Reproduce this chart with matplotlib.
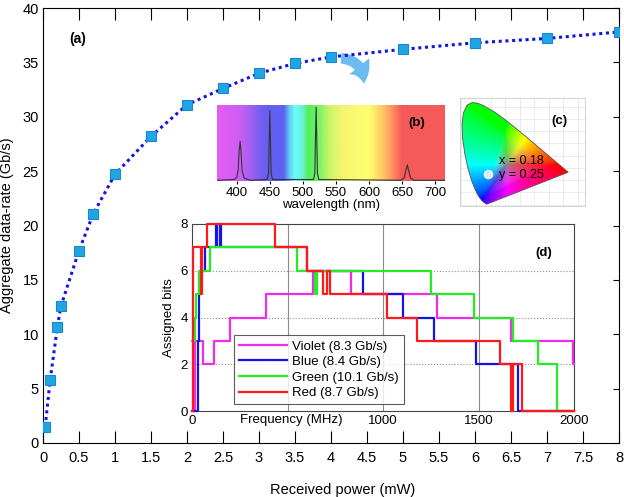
import numpy as np
import matplotlib
matplotlib.use('Agg')
import matplotlib.pyplot as plt
from matplotlib.colors import LinearSegmentedColormap
from matplotlib.patches import Polygon, FancyArrowPatch

plt.rcParams['font.family'] = ['Liberation Sans', 'DejaVu Sans']

# (a) aggregate data-rate vs received power
power = [0.03, 0.1, 0.2, 0.25, 0.5, 0.7, 1.0, 1.5, 2.0, 2.5, 3.0, 3.5, 4.0, 5.0, 6.0, 7.0, 8.0]
rate = [1.5, 5.8, 10.7, 12.6, 17.7, 21.1, 24.7, 28.2, 31.1, 32.6, 34.0, 34.9, 35.5, 36.2, 36.8, 37.2, 37.8]

# (b) emission spectrum
wl = [370, 396, 400, 402, 403.5, 405, 406.5, 408, 411, 420, 446, 448, 449, 450, 451, 452, 454,
      516, 518, 519, 520, 521, 522, 524, 648, 653, 656, 658, 660, 663, 668, 715]
intensity = [0.01, 0.02, 0.05, 0.15, 0.4, 0.54, 0.38, 0.14, 0.04, 0.01, 0.02, 0.1, 0.55, 0.95, 0.5, 0.1, 0.02,
             0.02, 0.1, 0.6, 1.0, 0.55, 0.1, 0.02, 0.01, 0.04, 0.15, 0.22, 0.14, 0.04, 0.01, 0.01]
spec_nodes = [370, 405, 440, 470, 480, 488, 500, 508, 520, 540, 560, 600, 620, 640, 650, 715]
spec_colors = ['#e65cf2', '#cc5ef2', '#6a5ef0', '#5b62f2', '#66ccf5', '#66ffff', '#66f2cc', '#55ee55',
               '#66f266', '#c8f566', '#f5f570', '#ffff70', '#ffcc66', '#ff8060', '#f55a5a', '#f55a5a']

# (c) CIE 1931 spectral locus
locus_x = [0.1741, 0.1714, 0.1644, 0.1566, 0.1440, 0.1241, 0.1096, 0.0913, 0.0687, 0.0454, 0.0235,
           0.0082, 0.0039, 0.0139, 0.0389, 0.0743, 0.1142, 0.1547, 0.2296, 0.3016, 0.3731, 0.4441,
           0.5125, 0.5752, 0.6270, 0.6915, 0.7190, 0.7347]
locus_y = [0.0050, 0.0051, 0.0109, 0.0177, 0.0297, 0.0578, 0.0868, 0.1327, 0.2007, 0.2950, 0.4127,
           0.5384, 0.6548, 0.7502, 0.8120, 0.8338, 0.8262, 0.8059, 0.7543, 0.6923, 0.6245, 0.5547,
           0.4866, 0.4242, 0.3725, 0.3083, 0.2809, 0.2653]
cie_point = (0.18, 0.25)

# (d) bit loading per colour: change frequencies (MHz) and bits
violet_f = [0, 18, 57, 115, 200, 390, 631, 831, 1281, 1670, 1993, 2000]
violet_b = [0, 3, 2, 3, 4, 5, 6, 5, 4, 3, 2, 2]
blue_f = [0, 31, 38, 48, 66, 127, 133, 147, 153, 602, 894, 1106, 1267, 1487, 1709, 2000]
blue_b = [0, 3, 5, 6, 7, 8, 7, 8, 7, 6, 5, 4, 3, 2, 0, 0]
green_f = [0, 14, 22, 38, 96, 549, 644, 652, 1250, 1474, 1680, 1812, 1911, 2000]
green_b = [3, 4, 5, 6, 7, 6, 5, 6, 5, 4, 3, 2, 0, 0]
red_f = [0, 4, 45, 52, 80, 432, 602, 688, 705, 720, 1019, 1180, 1613, 1672, 1680, 1726, 2000]
red_b = [0, 7, 5, 7, 8, 7, 6, 5, 6, 5, 4, 3, 2, 0, 2, 0, 0]
series_names = ['Violet (8.3 Gb/s)', 'Blue (8.4 Gb/s)', 'Green (10.1 Gb/s)', 'Red (8.7 Gb/s)']

W, H = 624, 497
fig = plt.figure(figsize=(6.24, 4.97), dpi=100)

def box(l, t, r, b):
    return [l / W, (H - b) / H, (r - l) / W, (b - t) / H]

# ---- main axes (a)
ax = fig.add_axes(box(43, 8, 619, 443))
ax.plot(power, rate, color='#1414dc', lw=2.2, dashes=(1, 1.2), zorder=2)
ax.plot(power, rate, ls='none', marker='s', ms=7.5, mfc='#1fa6e2', mec='#1b86d6', mew=0.8, zorder=3)
ax.set_xlim(0, 8)
ax.set_ylim(0, 40)
ax.set_xticks(np.arange(0, 8.01, 0.5))
ax.set_xticklabels(['0', '0.5', '1', '1.5', '2', '2.5', '3', '3.5', '4', '4.5', '5', '5.5', '6', '6.5', '7', '7.5', '8'])
ax.set_yticks(range(0, 41, 5))
ax.tick_params(axis='x', direction='in', top=True, length=8.5, width=0.8, labelsize=10.5, pad=6)
ax.tick_params(axis='y', direction='in', left=False, right=True, length=4.5, width=0.8, labelsize=10.5, pad=3)
ax.set_xlabel('Received power (mW)', fontsize=10.5)
ax.xaxis.set_label_coords(0.52, -0.092)
ax.set_ylabel('Aggregate data-rate (Gb/s)', fontsize=10.5)
ax.yaxis.set_label_coords(-0.05, 0.5)
ax.text(0.045, 0.92, '(a)', transform=ax.transAxes, fontsize=10, fontweight='bold')
arrow = FancyArrowPatch((0.513, 0.885), (0.557, 0.82), transform=ax.transAxes,
                        connectionstyle='arc3,rad=-0.5',
                        arrowstyle='simple,head_length=0.75,head_width=1.1,tail_width=0.45',
                        mutation_scale=17, color='#6cbcf2', lw=0)
ax.add_patch(arrow)

# ---- inset (b) spectrum
axb = fig.add_axes(box(217, 105, 445, 181))
cmap = LinearSegmentedColormap.from_list(
    'spec', [((n - 370) / (715 - 370), c) for n, c in zip(spec_nodes, spec_colors)])
axb.imshow(np.linspace(370, 715, 500)[None, :], extent=(370, 715, 0, 1.03), aspect='auto',
           cmap=cmap, vmin=370, vmax=715, zorder=0)
axb.plot(wl, intensity, color='#333333', lw=0.8)
axb.set_xlim(370, 715)
axb.set_ylim(0, 1.03)
axb.set_yticks([])
axb.set_xticks(range(400, 701, 50))
axb.tick_params(axis='x', length=2, labelsize=9.5, pad=2)
for s in axb.spines.values():
    s.set_visible(False)
axb.set_xlabel('wavelength (nm)', fontsize=9.5, labelpad=0)
axb.text(0.84, 0.72, '(b)', transform=axb.transAxes, fontsize=9.5, fontweight='bold')

# ---- inset (c) chromaticity diagram
axc = fig.add_axes(box(460, 98, 585, 206))
gx, gy = np.meshgrid(np.linspace(0, 0.8, 320), np.linspace(0.002, 0.9, 320))
XYZ = np.stack([gx / gy, np.ones_like(gx), (1 - gx - gy) / gy], axis=-1)
M = np.array([[3.2406, -1.5372, -0.4986], [-0.9689, 1.8758, 0.0415], [0.0557, -0.2040, 1.0570]])
rgb = np.clip(XYZ @ M.T, 0, None)
rgb = rgb / rgb.max(axis=-1, keepdims=True)
rgb = rgb - 0.7 * rgb.min(axis=-1, keepdims=True)
rgb = np.clip(rgb, 0, 1) ** (1 / 1.8)
img = axc.imshow(rgb, extent=(0, 0.8, 0.002, 0.9), origin='lower', aspect='auto', zorder=1)
poly = Polygon(np.column_stack([locus_x, locus_y]), closed=True, fc='none', ec='#555555', lw=0.6, zorder=2)
axc.add_patch(poly)
img.set_clip_path(poly)
axc.plot(*cie_point, 'o', ms=6, mfc='#d6eefa', mec='#ffffff', mew=0.8, zorder=3)
axc.text(0.255, 0.33, 'x = 0.18', fontsize=9, zorder=4)
axc.text(0.255, 0.22, 'y = 0.25', fontsize=9, zorder=4)
axc.text(0.62, 0.66, '(c)', fontsize=9.5, fontweight='bold', zorder=4)
axc.set_xlim(-0.01, 0.85)
axc.set_ylim(-0.01, 0.87)
axc.set_xticks(np.arange(0, 0.81, 0.1))
axc.set_yticks(np.arange(0, 0.81, 0.1))
axc.tick_params(length=0, labelbottom=False, labelleft=False)
axc.grid(color='#e4e4e4', lw=0.5)
axc.set_axisbelow(True)
for s in axc.spines.values():
    s.set_color('#cccccc')
    s.set_linewidth(0.6)

# ---- inset (d) bit loading
axd = fig.add_axes(box(192, 224, 574, 411))
for f, b, c, name in zip([violet_f, blue_f, green_f, red_f], [violet_b, blue_b, green_b, red_b],
                         ['#ee2cee', '#1414e6', '#22ee22', '#ff1a1a'], series_names):
    axd.step(f, b, where='post', color=c, lw=1.6, label=name, clip_on=False, zorder=3)
axd.set_xlim(0, 2000)
axd.set_ylim(0, 8)
axd.set_xticks([0, 500, 1000, 1500, 2000])
axd.set_xticklabels(['0', '', '1000', '1500', '2000'])
axd.set_yticks([0, 2, 4, 6, 8])
axd.tick_params(length=0, labelsize=9.5, pad=3)
for v in [500, 1000, 1500]:
    axd.axvline(v, color='#8c8c8c', lw=0.8, zorder=0)
for v in [2, 4, 6]:
    axd.axhline(v, color='#8c8c8c', lw=0.8, ls=':', zorder=0)
for s in axd.spines.values():
    s.set_color('#444444')
    s.set_linewidth(0.8)
axd.set_xlabel('Frequency (MHz)', fontsize=9.5)
axd.xaxis.set_label_coords(0.26, -0.018, transform=axd.transAxes)
axd.xaxis.label.set_va('top')
axd.set_ylabel('Assigned bits', fontsize=9.5, labelpad=4)
axd.text(0.9, 0.83, '(d)', transform=axd.transAxes, fontsize=9.5, fontweight='bold')
leg = axd.legend(loc='lower left', bbox_to_anchor=(0.11, 0.035), fontsize=9.5, frameon=True,
                 fancybox=False, edgecolor='#333333', handlelength=3.6, borderpad=0.4,
                 labelspacing=0.25, handletextpad=0.4, borderaxespad=0)
leg.get_frame().set_linewidth(0.8)
leg.set_zorder(5)

fig.savefig('out.png', dpi=100)
